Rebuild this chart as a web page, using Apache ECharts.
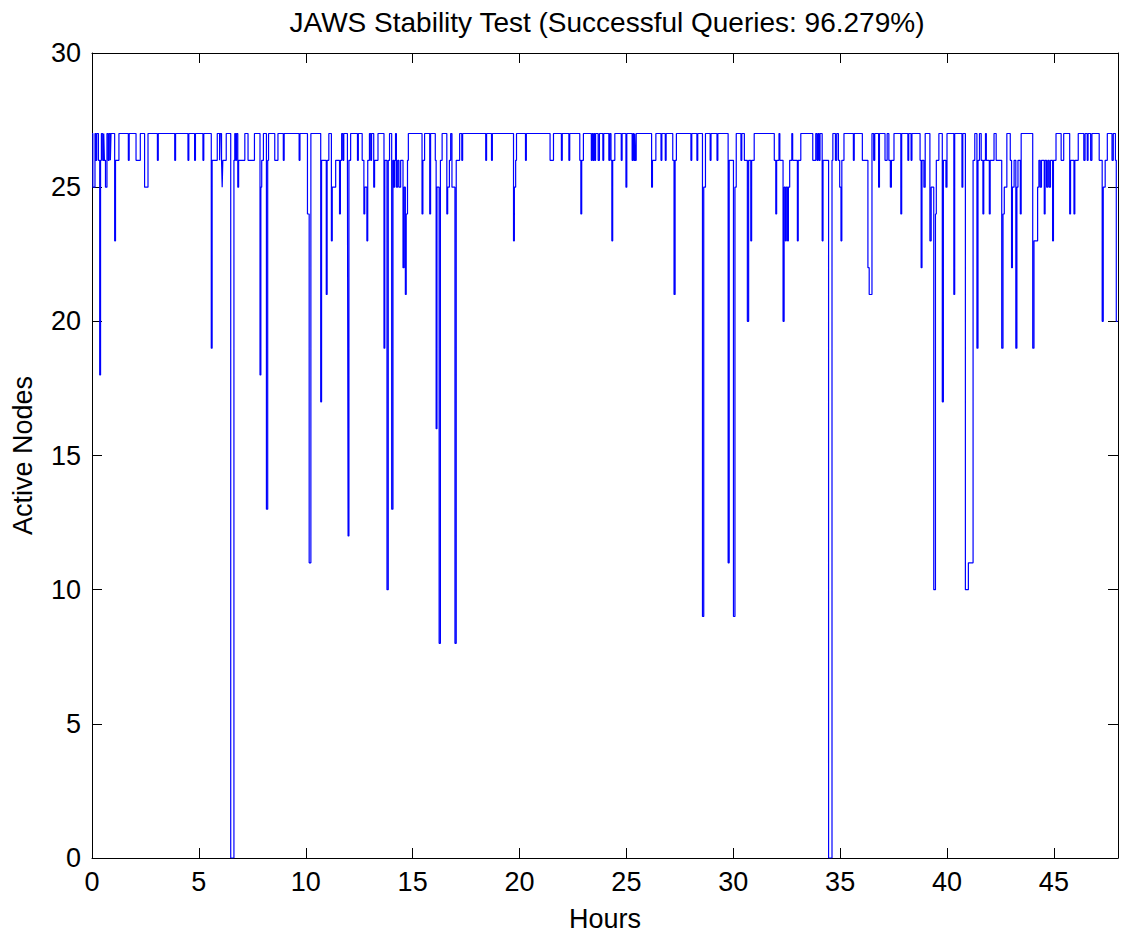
<!DOCTYPE html>
<html>
<head>
<meta charset="utf-8">
<script src="https://cdn.jsdelivr.net/npm/echarts/dist/echarts.min.js"></script>
<style>
html,body{margin:0;padding:0;background:#fff;}
#chart{width:1121px;height:937px;}
</style>
</head>
<body>
<div id="chart"></div>
<script>
// ---- data ----
const titleText = 'JAWS Stability Test (Successful Queries: 96.279%)';
const xName = 'Hours';
const yName = 'Active Nodes';
const xTicks = [0, 5, 10, 15, 20, 25, 30, 35, 40, 45];
const yTicks = [0, 5, 10, 15, 20, 25, 30];
// [hour, active nodes] : value holds from this hour until the next entry
const readings = [
[0.00,27],[0.04,25],[0.14,27],[0.18,26],[0.22,27],[0.30,26],[0.36,18],[0.40,26],[0.44,27],[0.50,26],
[0.55,27],[0.58,26],[0.63,25],[0.70,27],[0.76,26],[0.80,27],[0.86,26],[0.89,27],[1.06,23],[1.10,26],
[1.26,27],[1.70,26],[1.74,27],[2.06,26],[2.26,27],[2.46,25],[2.62,27],[3.06,26],[3.10,27],[3.87,26],
[3.91,27],[4.49,26],[4.53,27],[4.80,26],[4.84,27],[5.19,26],[5.23,27],[5.58,19],[5.62,26],[5.86,27],
[5.97,26],[6.00,27],[6.06,26],[6.09,25],[6.12,26],[6.28,27],[6.49,0],[6.64,26],[6.68,27],[6.72,26],
[6.76,27],[6.82,25],[6.86,26],[7.15,27],[7.30,26],[7.60,27],[7.86,18],[7.90,25],[7.94,26],[8.02,27],
[8.16,13],[8.22,26],[8.26,27],[8.55,26],[8.70,27],[8.95,26],[8.99,27],[9.69,26],[9.73,27],[10.08,24],
[10.16,11],[10.24,27],[10.70,17],[10.74,26],[10.96,21],[11.00,26],[11.08,27],[11.20,23],[11.24,25],[11.40,26],
[11.58,24],[11.62,26],[11.68,27],[11.74,26],[11.78,27],[11.95,26],[11.98,12],[12.02,26],[12.10,27],[12.42,26],
[12.46,27],[12.64,26],[12.72,24],[12.76,25],[12.86,23],[12.90,26],[12.98,27],[13.04,26],[13.08,27],[13.18,25],
[13.22,26],[13.38,27],[13.66,19],[13.70,26],[13.80,10],[13.86,26],[13.92,27],[14.02,13],[14.08,26],[14.12,25],
[14.16,26],[14.20,27],[14.24,25],[14.30,26],[14.36,25],[14.44,26],[14.55,22],[14.60,25],[14.66,21],[14.70,24],
[14.76,26],[14.80,27],[15.44,24],[15.48,26],[15.56,27],[15.80,24],[15.84,27],[16.06,26],[16.10,16],[16.14,25],
[16.24,8],[16.30,26],[16.38,27],[16.60,24],[16.64,25],[16.72,26],[16.78,27],[16.84,25],[16.98,8],[17.04,26],
[17.20,27],[17.30,26],[17.34,27],[18.42,26],[18.46,27],[18.69,26],[18.73,27],[19.72,23],[19.76,25],[19.82,26],
[19.86,27],[20.28,26],[20.32,27],[21.43,26],[21.59,27],[21.96,26],[22.00,27],[22.31,26],[22.35,27],[22.82,26],
[22.87,24],[22.91,26],[22.99,27],[23.36,26],[23.40,27],[23.44,26],[23.48,27],[23.52,26],[23.56,27],[23.68,26],
[23.74,27],[23.90,26],[23.94,27],[24.18,26],[24.22,27],[24.28,26],[24.32,23],[24.36,26],[24.46,27],[24.76,26],
[24.80,27],[24.98,25],[25.02,27],[25.27,26],[25.31,27],[25.35,26],[25.39,27],[25.42,26],[25.46,27],[26.18,25],
[26.22,26],[26.38,27],[26.62,26],[26.66,27],[26.82,26],[26.86,27],[27.17,26],[27.23,21],[27.28,26],[27.34,27],
[28.02,26],[28.06,27],[28.30,26],[28.34,27],[28.56,9],[28.62,25],[28.70,27],[28.92,26],[28.96,27],[29.24,26],
[29.28,27],[29.76,11],[29.81,26],[30.01,9],[30.08,25],[30.14,27],[30.36,26],[30.40,27],[30.52,26],[30.66,20],
[30.72,26],[30.82,23],[30.86,26],[30.98,27],[31.92,26],[31.99,24],[32.03,26],[32.14,27],[32.18,26],[32.33,20],
[32.38,25],[32.44,23],[32.48,25],[32.54,23],[32.58,25],[32.64,26],[32.74,27],[32.78,26],[33.00,23],[33.04,26],
[33.16,27],[33.72,26],[33.86,27],[33.92,26],[33.97,27],[34.02,26],[34.06,27],[34.16,23],[34.20,26],[34.46,0],
[34.62,26],[34.66,27],[34.78,26],[34.84,27],[34.92,26],[34.98,25],[35.04,23],[35.08,26],[35.18,27],[35.62,26],
[35.66,27],[36.04,26],[36.30,22],[36.36,21],[36.49,27],[36.57,26],[36.62,27],[36.80,25],[36.84,27],[37.10,26],
[37.20,27],[37.28,26],[37.35,25],[37.40,26],[37.52,27],[37.84,24],[37.88,27],[38.17,26],[38.21,27],[38.32,26],
[38.36,27],[38.74,26],[38.79,22],[38.83,26],[38.92,25],[38.98,27],[39.20,23],[39.26,25],[39.38,10],[39.46,24],
[39.50,26],[39.62,27],[39.78,17],[39.83,26],[39.95,25],[40.00,27],[40.32,21],[40.36,27],[40.70,25],[40.74,27],
[40.86,10],[41.00,11],[41.22,26],[41.30,27],[41.40,19],[41.45,26],[41.52,27],[41.60,26],[41.68,24],[41.72,26],
[41.80,27],[41.84,26],[41.98,24],[42.02,26],[42.20,27],[42.30,26],[42.56,19],[42.62,24],[42.68,25],[42.80,27],
[42.96,26],[43.02,22],[43.06,25],[43.14,26],[43.22,19],[43.27,25],[43.32,26],[43.43,24],[43.47,27],[44.01,19],
[44.07,23],[44.24,25],[44.30,26],[44.36,25],[44.42,26],[44.55,24],[44.59,26],[44.66,25],[44.72,26],[44.78,25],
[44.84,26],[44.94,23],[44.98,26],[45.10,27],[45.34,26],[45.46,27],[45.74,24],[45.78,26],[45.94,24],[45.98,26],
[46.14,27],[46.40,26],[46.46,27],[46.56,26],[46.60,27],[46.72,26],[46.78,27],[47.12,26],[47.26,20],[47.31,25],
[47.40,26],[47.50,27],[47.72,26],[47.78,27],[47.88,26],[47.92,20],[47.98,20]
];
const xMin = 0, xMax = 48, yMin = 0, yMax = 30;

// ---- chart ----
const FONT = "'Liberation Sans', Arial, Helvetica, sans-serif";
const chart = echarts.init(document.getElementById('chart'), null, {renderer: 'svg'});
const axisCommon = {
  axisLine: {show: true, onZero: false, lineStyle: {color: '#000', width: 1}},
  axisTick: {show: true, inside: true, length: 10, lineStyle: {color: '#000', width: 1}},
  splitLine: {show: false}
};
chart.setOption({
  animation: false,
  backgroundColor: '#fff',
  graphic: [{
    type: 'text', x: 607, y: 22,
    style: {text: titleText, font: '28px ' + FONT, fill: '#000',
      textAlign: 'center', textVerticalAlign: 'middle', align: 'center', verticalAlign: 'middle'}
  }],
  grid: {left: 92, top: 53, width: 1030, height: 813, containLabel: false},
  xAxis: [
    Object.assign({}, axisCommon, {
      type: 'value', position: 'bottom', min: xMin, max: xMax, interval: 5,
      name: xName, nameLocation: 'middle', nameGap: 47,
      nameTextStyle: {fontSize: 27, fontFamily: FONT, color: '#000'},
      axisLabel: {show: true, fontSize: 27, fontFamily: FONT, color: '#000', margin: 10,
        formatter: v => xTicks.indexOf(v) >= 0 ? String(v) : ''}
    }),
    Object.assign({}, axisCommon, {
      type: 'value', position: 'top', min: xMin, max: xMax, interval: 5,
      axisLabel: {show: false}
    })
  ],
  yAxis: [
    Object.assign({}, axisCommon, {
      type: 'value', position: 'left', min: yMin, max: yMax, interval: 5,
      name: yName, nameLocation: 'middle', nameGap: 56, nameRotate: 90,
      nameTextStyle: {fontSize: 27, fontFamily: FONT, color: '#000'},
      axisLabel: {show: true, fontSize: 27, fontFamily: FONT, color: '#000', margin: 11,
        padding: [6, 0, 0, 0],
        formatter: v => yTicks.indexOf(v) >= 0 ? String(v) : ''}
    }),
    Object.assign({}, axisCommon, {
      type: 'value', position: 'right', min: yMin, max: yMax, interval: 5,
      axisLabel: {show: false}
    })
  ],
  series: [{
    type: 'line',
    xAxisIndex: 0, yAxisIndex: 0,
    data: readings,
    step: 'end',
    showSymbol: false,
    symbol: 'none',
    clip: true,
    lineStyle: {color: '#0000ff', width: 1.2},
    itemStyle: {color: '#0000ff'}
  }]
});
</script>
</body>
</html>
